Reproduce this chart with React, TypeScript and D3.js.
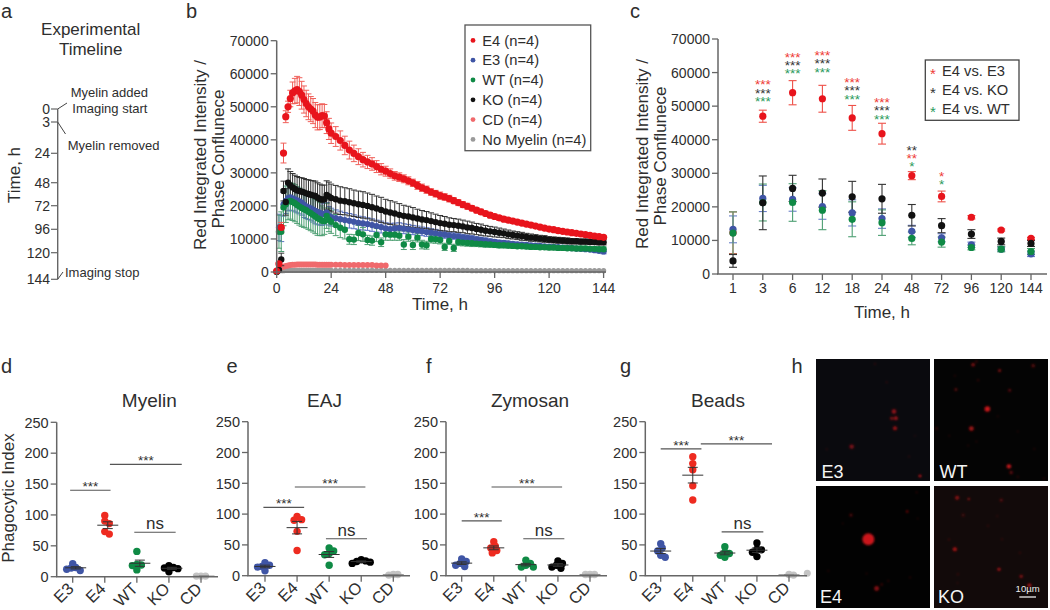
import React from "react";
import * as d3 from "d3";

// ---------- panel b : time course ----------
const times = [
  0,1,2,3,4,5,6,7,8,9,10,11,12,13,14,15,16,17,18,19,20,21,22,23,24,
  26,28,30,32,34,36,38,40,42,44,46,48,50,52,54,56,58,60,62,64,66,68,70,72,74,76,78,80,82,84,
  86,88,90,92,94,96,98,100,102,104,106,108,110,112,114,116,118,120,122,124,126,128,130,132,134,136,138,140,142,144,
];
const e4Mean = [
  300,2500,13500,36000,47000,50000,52500,54200,54800,55200,54600,53500,52200,51000,50000,49300,48700,47500,46800,46900,47300,47200,45200,43300,42000,
  41000,39800,38300,36900,35900,34900,34000,33300,32700,31900,
  31100,30500,29800,29100,28700,28200,27600,27000,26200,25500,
  24900,24200,23700,23100,22700,22200,21600,21000,20400,19900,
  19300,18700,18200,17700,17200,16800,16400,16000,15700,15400,
  15100,14800,14500,14200,13900,13600,13300,13000,12800,12500,
  12300,12100,11900,11700,11500,11300,11100,10900,10700,10500,
];
const e4Err = [
  0,300,1500,3000,1800,1700,2500,3300,3800,4000,4200,4200,4100,4000,3900,3800,3800,3800,3800,3800,3600,3500,3300,3200,3100,
  3000,2900,2800,2700,2500,2400,2200,2000,1900,1800,
  1700,1500,1400,1300,1300,1200,1200,1100,1200,1100,
  1100,1000,1000,1100,1000,1000,900,900,900,900,
  800,800,800,700,800,700,700,700,600,600,
  600,600,600,600,500,600,500,500,500,500,
  500,500,500,400,500,400,400,400,400,400,
];
const koMean = [
  100,600,3800,24500,21200,27000,26200,25600,25100,24700,24500,24300,24100,23800,23600,23400,23200,23000,22500,22100,21900,22000,23300,22900,22400,
  22000,21600,21400,21100,20800,20500,20300,20000,19600,19200,
  18800,18300,18000,17700,17300,17000,16800,16500,16200,15900,
  15700,15400,15100,14800,14600,14300,14200,14000,13800,13500,
  13300,13000,12800,12500,12300,12100,11900,11700,11400,11200,
  11000,10800,10600,10400,10300,10100,10000,9800,9700,9600,
  9500,9400,9300,9300,9200,9200,9100,9100,9000,9000,
];
const koErr = [
  0,300,1900,3000,4000,4200,4200,4200,4200,4200,4100,4200,4200,4200,4300,4300,4400,4500,4500,4500,4400,4300,4300,4300,4200,
  4200,4200,4100,4100,4000,4000,4000,3900,3900,3800,
  3800,3700,3600,3500,3400,3200,3100,3000,2800,2700,
  2600,2500,2400,2300,2200,2100,2000,2000,1900,1900,
  1800,1700,1700,1600,1500,1500,1400,1300,1300,1200,
  1200,1200,1100,1100,1000,1000,1000,900,900,900,
  900,900,800,800,800,800,800,800,800,800,
];
const e3Mean = [
  100,13500,13200,20500,21500,22400,22600,22300,22000,21700,21400,21000,20300,19900,19600,19300,18900,18500,18200,17900,17600,17500,18000,17000,16600,
  16300,16000,15700,15500,15200,14900,14700,14500,14200,13900,
  13600,13200,13000,13200,13300,13100,12900,12700,12500,12300,
  12100,11900,11700,11500,11300,11000,10900,10700,10500,10300,
  10100,9900,9700,9500,9300,9100,8900,8800,8700,8500,
  8400,8300,8200,8100,8000,7900,7800,7700,7600,7500,
  7400,7300,7200,7100,7000,6900,6800,6600,6400,6200,
];
const e3Err = [
  0,4000,4000,3600,3800,3900,3900,3800,3800,3800,3800,3800,3800,3700,3700,3800,3800,3900,3900,3700,3500,3200,3000,2800,2700,
  2500,2400,2300,2200,2100,2000,2000,1900,1900,1800,
  1800,1700,1700,1600,1600,1500,1500,1400,1400,1300,
  1300,1200,1200,1100,1100,1000,1000,1000,900,900,
  900,800,800,800,700,700,700,700,600,600,
  600,600,600,500,500,500,500,500,500,500,
  500,500,500,500,500,500,600,600,600,700,
];
const wtMean = [
  100,12200,12200,19500,20500,21300,21500,21200,20800,20300,19800,19400,19000,18700,18200,17800,17300,16800,16300,16000,15500,15400,17000,15800,15200,
  14200,13400,12800,9900,9800,11800,11400,9700,9500,11200,
  9000,11400,11300,11300,11000,8300,10700,8200,10400,8300,
  8100,10000,9900,9700,7600,9400,7300,9100,8900,8800,
  8700,8600,8500,8400,8300,8200,8100,8100,8000,7900,
  7800,7800,7700,7600,7600,7500,7500,7400,7400,7300,
  7300,7200,7200,7100,7100,7100,7000,7000,6900,6900,
];
const wtErr = [
  0,5000,6000,5500,5500,5500,5500,5600,5600,5600,5600,5600,5500,5400,5300,5300,5200,5200,5200,5000,4500,4000,3800,3600,3500,
  3200,3000,2800,1500,1500,2300,2100,1400,1400,2000,
  1300,1800,1700,1700,1400,1500,1400,1400,1300,1300,
  1200,1200,1200,1200,1100,1100,1100,1100,1000,1000,
  1000,900,900,900,800,800,800,800,800,700,
  700,700,700,700,700,700,700,700,700,700,
  700,700,700,700,700,700,700,700,700,700,
];
const cdMean = [
  1400,1500,1600,1800,2000,2100,2200,2200,2300,2300,2300,2300,2300,2300,2300,2300,2300,2200,2200,2200,2200,2200,2200,2200,
  2200,2200,2100,2100,2100,2100,2100,2100,2100,2000,2000,2000,
];
const noMyelin = [
  300,400,400,400,500,500,500,500,500,500,500,500,500,500,500,500,500,500,500,500,500,500,500,500,500,
  500,500,500,500,500,500,500,500,500,500,500,500,500,500,500,500,500,500,500,500,
  500,500,500,500,500,500,500,500,500,500,400,400,400,400,400,400,400,400,400,400,
  400,400,400,400,400,400,400,400,400,400,400,400,400,400,400,400,400,400,400,400,
];
const bYTicks = [0,10000,20000,30000,40000,50000,60000,70000];
const bXTicks = [0,24,48,72,96,120,144];
const bLegend = ["E4 (n=4)","E3 (n=4)","WT (n=4)","KO (n=4)","CD (n=4)","No Myelin (n=4)"];

// ---------- panel c : selected times ----------
const cTimes = ["1","3","6","12","18","24","48","72","96","120","144"];
const cE4 = [12300,47000,54000,52200,46500,41800,29300,23100,16900,13100,10600];
const cE4Err = [6200,1800,3600,4000,3700,3100,1200,1600,500,300,300];
const cE3 = [13300,22500,22200,20100,18200,16500,12700,10800,8700,7400,6000];
const cE3Err = [4000,3900,3500,3800,3900,2900,1800,1200,800,600,800];
const cKO = [3900,21200,25500,24100,23000,22400,17500,14400,11900,9700,9100];
const cKOErr = [1900,8000,3900,4200,4600,4300,3200,2100,1300,1000,900];
const cWT = [12200,21300,21300,19000,16300,15300,10600,9500,7900,7400,6700];
const cWTErr = [6300,5500,5600,5800,5200,3800,1900,1500,700,800,900];
const cStarsE3 = ["","***","***","***","***","***","**","*","","",""];
const cStarsKO = ["","***","***","***","***","***","**","","","",""];
const cStarsWT = ["","***","***","***","***","***","*","*","","",""];
const cStarTop = [0,57200,65500,66000,57900,52000,37800,29900,0,0,0];
const cLegend = ["E4 vs. E3","E4 vs. KO","E4 vs. WT"];

// ---------- panels d-g : phagocytic index ----------
const groups = ["E3","E4","WT","KO","CD"];
const myelin = [[21,15,14,12,10],[99,90,86,73,69],[41,20,19,18,11],[18,15,14,13,8],[1,1,1]];
const eaj = [[21,17,15,14,8],[96,91,90,72,41],[45,40,36,34,17],[26,24,23,22,20],[2,1,2]];
const zymosan = [[27,23,20,17,15],[55,48,45,41,37],[25,20,17,14,14],[24,20,17,14,12],[2,2,2]];
const beads = [[52,45,40,33,30],[193,182,172,146,123],[47,38,36,33,30],[53,43,42,38,31],[1,2]];
const indexTicks = [0,50,100,150,200,250];

// ---------- panel h : micrograph spots (fraction x, fraction y, size, brightness) ----------
const spotsE3 = [[.684,.43,2.3,.65],[.7,.486,2,.7],[.664,.486,1.6,.6],[.693,.567,2,.7],[.313,.718,2.2,.55],[.912,.959,1.3,1],[.62,.19,.8,.35],[.517,.04,.8,.3],[.094,.74,.8,.3],[.816,.8,.8,.3],[.868,.63,.8,.2]];
const spotsWT = [[.468,.41,2.8,.9],[.328,.57,2.4,.7],[.657,.88,2.2,.9],[.677,.93,1.8,.4],[.343,.047,1.8,.6],[.372,.02,1,.4],[.575,.094,1.5,.6],[.87,.055,1.8,.4],[.192,.25,1.5,.4],[.663,.257,1.5,.4],[.387,.175,1,.3],[.023,.57,1,.4],[.372,.677,.8,.25],[.3,.71,.8,.25],[.735,.965,1,.25],[.183,.137,.8,.3],[.56,.47,.8,.25],[.88,.737,.8,.25],[.134,.63,.8,.25],[.735,.594,.8,.25],[.965,.98,.8,.3]];
const spotsE4 = [[.459,.436,6,.9],[.532,.84,2.4,.6],[.576,.808,1,.45],[.307,.238,1.6,.35],[.8,.21,1,.8],[.883,.052,.8,.35],[.892,.266,.8,.25],[.234,.307,.8,.25],[.108,.696,.8,.25],[.444,.718,.8,.25],[.825,.75,.8,.35],[.634,.778,.8,.35]];
const spotsKO = [[.203,.096,2,.6],[.305,.107,1,.9],[.183,.518,2,.75],[.57,.682,1.5,.8],[.765,.74,1.6,.6],[.837,.814,1.8,.8],[.256,.238,1.6,.25],[.59,.115,1.6,.35],[.131,.438,.8,.45],[.474,.326,.8,.35],[.596,.436,.8,.35],[.555,.247,.8,.25],[.753,.548,.8,.35],[.21,.723,1,.25],[.206,.795,.8,.25]];

// ---------- panel a : timeline ----------
const timelineTicks = [0,3,24,48,72,96,120,144];

// ---------- style ----------
const FONT = "'Liberation Sans', Arial, sans-serif";
const INK = "#2e2e2e";
const AXIS = "#666";
const RED = "#e8141c";
const BLUE = "#3f55a5";
const GREEN = "#0f8a45";
const BLACK = "#111";
const PINK = "#f0696c";
const GREY = "#9a9a9a";
const COLORS: Record<string,string> = {E3:BLUE,E4:"#ee2b20",WT:GREEN,KO:"#000",CD:"#c4c4c4"};

const fmt = (v:number)=>String(v);

function YAxis({x,scale,ticks,size=14}:any){
  const [a,b]=scale.range();
  return <g>
    <line x1={x} x2={x} y1={a} y2={b} stroke={AXIS} strokeWidth={1.5}/>
    {ticks.map((t:number)=><g key={t}>
      <line x1={x-6} x2={x} y1={scale(t)} y2={scale(t)} stroke={AXIS} strokeWidth={1.3}/>
      <text x={x-8} y={scale(t)+size*0.36} textAnchor="end" fontSize={size} fill={INK}>{fmt(t)}</text>
    </g>)}
  </g>;
}

function TimeCourse(){
  const x=d3.scaleLinear().domain([0,144]).range([276.7,603.6]);
  const y=d3.scaleLinear().domain([0,70000]).range([272,40.7]);
  const series=[
    {vals:e3Mean,err:e3Err,c:BLUE,ec:"#5d75c4",r:3.1},
    {vals:wtMean,err:wtErr,c:GREEN,ec:"#4d9f72",r:3.2},
    {vals:koMean,err:koErr,c:BLACK,ec:"#333",r:3.2},
    {vals:e4Mean,err:e4Err,c:RED,ec:"#f0605a",r:3.6},
  ];
  return <g>
    {noMyelin.map((v,i)=><circle key={"n"+i} cx={x(times[i])} cy={y(v)} r={2.6} fill={GREY}/>)}
    {cdMean.map((v,i)=><circle key={"c"+i} cx={x(times[i+1])} cy={y(v)} r={3} fill={PINK}/>)}
    {series.map((s,k)=><g key={k}>
      {s.vals.map((v,i)=> s.err[i]>0 ? <g key={i} stroke={s.ec} strokeWidth={1}>
        <line x1={x(times[i])} x2={x(times[i])} y1={y(v-s.err[i])} y2={y(v+s.err[i])}/>
        <line x1={x(times[i])-3} x2={x(times[i])+3} y1={y(v+s.err[i])} y2={y(v+s.err[i])}/>
        <line x1={x(times[i])-3} x2={x(times[i])+3} y1={y(v-s.err[i])} y2={y(v-s.err[i])}/>
      </g>:null)}
    </g>)}
    {series.map((s,k)=><g key={k}>
      {s.vals.map((v,i)=><circle key={i} cx={x(times[i])} cy={y(v)} r={s.r} fill={s.c}/>)}
    </g>)}
    <YAxis x={276.7} scale={y} ticks={bYTicks}/>
    <line x1={276} x2={606} y1={272} y2={272} stroke={AXIS} strokeWidth={1.5}/>
    {bXTicks.map(t=><g key={t}>
      <line x1={x(t)} x2={x(t)} y1={272} y2={278} stroke={AXIS} strokeWidth={1.3}/>
      <text x={x(t)} y={293} textAnchor="middle" fontSize={14} fill={INK}>{t}</text>
    </g>)}
    <text x={440} y={310} textAnchor="middle" fontSize={17} fill={INK}>Time, h</text>
    <text transform="translate(206,155) rotate(-90)" textAnchor="middle" fontSize={17} fill={INK}>Red Integrated Intensity /</text>
    <text transform="translate(224,159) rotate(-90)" textAnchor="middle" fontSize={17} fill={INK}>Phase Conflunece</text>
    <rect x={465} y={25} width={125.7} height={125.7} fill="#fff" stroke="#555" strokeWidth={1.3}/>
    {bLegend.map((l,i)=><g key={l}>
      <circle cx={473} cy={40.4+i*19.8} r={2.4} fill={[RED,BLUE,GREEN,BLACK,PINK,GREY][i]}/>
      <text x={482.3} y={45.6+i*19.8} fontSize={14.7} fill={INK}>{l}</text>
    </g>)}
  </g>;
}

function SelectedTimes(){
  const x=d3.scalePoint().domain(cTimes).range([733,1031]);
  const y=d3.scaleLinear().domain([0,70000]).range([274,39]);
  const series=[
    {vals:cE4,err:cE4Err,c:RED,ec:"#ee5048"},
    {vals:cE3,err:cE3Err,c:BLUE,ec:"#6a80c8"},
    {vals:cWT,err:cWTErr,c:GREEN,ec:"#4d9f72"},
    {vals:cKO,err:cKOErr,c:BLACK,ec:"#333"},
  ];
  const rows=[{s:cStarsE3,c:"#ee3a36"},{s:cStarsKO,c:"#333"},{s:cStarsWT,c:"#2a9a5c"}];
  return <g>
    {series.map((s,k)=><g key={k}>
      {s.vals.map((v,i)=>{const cx=x(cTimes[i])!;return <g key={i} stroke={s.ec} strokeWidth={1.1}>
        <line x1={cx} x2={cx} y1={y(v-s.err[i])} y2={y(v+s.err[i])}/>
        <line x1={cx-4} x2={cx+4} y1={y(v+s.err[i])} y2={y(v+s.err[i])}/>
        <line x1={cx-4} x2={cx+4} y1={y(v-s.err[i])} y2={y(v-s.err[i])}/>
      </g>;})}
    </g>)}
    {series.map((s,k)=><g key={k}>
      {s.vals.map((v,i)=><circle key={i} cx={x(cTimes[i])} cy={y(v)} r={3.6} fill={s.c}/>)}
    </g>)}
    {cTimes.map((t,i)=>{
      const base=cStarTop[i];
      // column-wise star stack, red on top, except at 48 h where the two-star black row leads
      const order=t==="48"?[1,0,2]:[0,1,2];
      let row=0;
      return <g key={t}>{order.map(r=>{
        const s=rows[r].s[i];
        if(!s) return null;
        const yy=y(base)+row*8.4;
        row++;
        return <text key={r} x={x(t)} y={yy+7.4} textAnchor="middle" fontSize={13.5} fill={rows[r].c}>{s}</text>;
      })}</g>;
    })}
    <YAxis x={718} scale={y} ticks={bYTicks}/>
    <line x1={717} x2={1047} y1={274} y2={274} stroke={AXIS} strokeWidth={1.5}/>
    {cTimes.map(t=><g key={t}>
      <line x1={x(t)} x2={x(t)} y1={274} y2={280} stroke={AXIS} strokeWidth={1.3}/>
      <text x={x(t)} y={293} textAnchor="middle" fontSize={14} fill={INK}>{t}</text>
    </g>)}
    <text x={882} y={318} textAnchor="middle" fontSize={17} fill={INK}>Time, h</text>
    <text transform="translate(648,154) rotate(-90)" textAnchor="middle" fontSize={17} fill={INK}>Red Integrated Intensity /</text>
    <text transform="translate(666,156) rotate(-90)" textAnchor="middle" fontSize={17} fill={INK}>Phase Conflunece</text>
    <rect x={925.3} y={60} width={93.7} height={60.3} fill="#fff" stroke="#444" strokeWidth={1.3}/>
    {cLegend.map((l,i)=><g key={l}>
      <text x={933} y={79+i*19} textAnchor="middle" fontSize={15} fill={rows[i].c}>*</text>
      <text x={942} y={75.6+i*19} fontSize={14.7} fill={INK}>{l}</text>
    </g>)}
  </g>;
}

// arrange a group's values around its tick so the dots do not pile up
function swarm(vals:number[],y:(v:number)=>number,gap:number){
  const placed:{px:number,py:number,v:number}[]=[];
  [...vals].sort((a,b)=>b-a).forEach(v=>{
    const py=y(v);
    for(let k=0;k<30;k++){
      const off=(k%2?1:-1)*Math.ceil(k/2)*1.5;
      if(placed.every(p=>Math.hypot(p.px-off,p.py-py)>=gap)){placed.push({px:off,py,v});break;}
    }
  });
  return placed;
}

function IndexPanel({data,title,axisX,first,end,y0,y250,titleX,titleY,brackets,meanShift=0,stray=[],yLabel=false}:any){
  const x=d3.scalePoint().domain(groups).range([first,first+128.3]);
  const y=d3.scaleLinear().domain([0,250]).range([y0,y250]);
  const step=x.step();
  const atPos=(p:number)=>first+p*step;
  return <g>
    <text x={titleX} y={titleY} textAnchor="middle" fontSize={19} fill={INK}>{title}</text>
    {yLabel&&<text transform="translate(14,498) rotate(-90)" textAnchor="middle" fontSize={17} fill={INK}>Phagocytic Index</text>}
    {data.map((vals:number[],g:number)=>{
      const cx=x(groups[g])!;
      const m=d3.mean(vals)!;
      const sem=(d3.deviation(vals)||0)/Math.sqrt(vals.length);
      return <g key={g}>
        {swarm(vals,y,4.4).map((p,i)=><circle key={i} cx={cx+p.px} cy={p.py} r={3.7} fill={COLORS[groups[g]]}/>)}
        <g stroke={g===4?"#888":"#333"} strokeWidth={1}>
          <line x1={cx+meanShift-10.5} x2={cx+meanShift+10.5} y1={y(m)} y2={y(m)}/>
          <line x1={cx+meanShift} x2={cx+meanShift} y1={y(m-sem)} y2={y(m+sem)}/>
          <line x1={cx+meanShift-5} x2={cx+meanShift+5} y1={y(m+sem)} y2={y(m+sem)}/>
          <line x1={cx+meanShift-5} x2={cx+meanShift+5} y1={y(m-sem)} y2={y(m-sem)}/>
        </g>
      </g>;
    })}
    {stray.map((s:number[],i:number)=><circle key={i} cx={atPos(s[0])} cy={y(s[1])} r={3.5} fill={COLORS.CD}/>)}
    {brackets.map((b:any,i:number)=><g key={i}>
      <line x1={atPos(b[0])} x2={atPos(b[1])} y1={y(b[2])} y2={y(b[2])} stroke="#555" strokeWidth={1.2}/>
      {b[3]==="ns"
        ? <text x={atPos((b[0]+b[1])/2)} y={y(b[2])-3} textAnchor="middle" fontSize={17} fill={INK}>ns</text>
        : <text x={atPos((b[0]+b[1])/2)} y={y(b[2])+1} textAnchor="middle" fontSize={13.5} fill={INK}>***</text>}
    </g>)}
    <YAxis x={axisX} scale={y} ticks={indexTicks} size={14.5}/>
    <line x1={axisX-0.7} x2={end} y1={y0} y2={y0} stroke={AXIS} strokeWidth={1.4}/>
    {groups.map(g=><g key={g}>
      <line x1={x(g)} x2={x(g)} y1={y0} y2={y0+6} stroke={AXIS} strokeWidth={1.3}/>
      <text transform={`translate(${x(g)!+2},${y0+13}) rotate(-45)`} textAnchor="end" fontSize={16.5} fill={INK}>{g}</text>
    </g>)}
  </g>;
}

function Micrograph({x0,y0,w,h,spots,label,labelX,labelY,bg="#050505",bar=false}:any){
  const sx=d3.scaleLinear().domain([0,1]).range([x0,x0+w]);
  const sy=d3.scaleLinear().domain([0,1]).range([y0,y0+h]);
  return <g>
    <rect x={x0} y={y0} width={w} height={h} fill={bg}/>
    <g filter="url(#spotBlur)">
      {spots.map((s:number[],i:number)=><circle key={i} cx={sx(s[0])} cy={sy(s[1])} r={s[2]} fill={`rgba(225,25,30,${s[3]})`}/>)}
    </g>
    <text x={labelX} y={labelY} fontSize={18} fill="#f4f4f4">{label}</text>
    {bar&&<g>
      <line x1={1019.3} x2={1036} y1={597} y2={597} stroke="#eee" strokeWidth={1.3}/>
      <text x={1027.6} y={592} textAnchor="middle" fontSize={9.5} fill="#eee">10µm</text>
    </g>}
  </g>;
}

function Timeline(){
  const y=d3.scaleLinear().domain(timelineTicks).range([109,122,153.3,182.7,205.7,229.3,252.7,279.3]);
  return <g>
    <text x={90.7} y={35} textAnchor="middle" fontSize={17} fill={INK}>Experimental</text>
    <text x={90.7} y={55} textAnchor="middle" fontSize={17} fill={INK}>Timeline</text>
    <line x1={57.7} x2={57.7} y1={y(0)} y2={y(144)} stroke={AXIS} strokeWidth={1.4}/>
    {timelineTicks.map(t=><g key={t}>
      <line x1={51} x2={57.7} y1={y(t)} y2={y(t)} stroke={AXIS} strokeWidth={1.2}/>
      <text x={50} y={y(t)+5} textAnchor="end" fontSize={14} fill={INK}>{t}</text>
    </g>)}
    <g stroke="#444" strokeWidth={1} fill="none">
      <line x1={57.7} x2={67} y1={y(0)} y2={103}/>
      <line x1={57.7} x2={65.5} y1={y(3)} y2={134}/>
      <line x1={57.7} x2={63} y1={y(144)} y2={272}/>
    </g>
    <text x={70.7} y={96.7} fontSize={13} fill={INK}>Myelin added</text>
    <text x={72.3} y={113.3} fontSize={13} fill={INK}>Imaging start</text>
    <text x={67.7} y={150} fontSize={13} fill={INK}>Myelin removed</text>
    <text x={65} y={276.7} fontSize={13} fill={INK}>Imaging stop</text>
    <text transform="translate(20,175) rotate(-90)" textAnchor="middle" fontSize={17} fill={INK}>Time, h</text>
  </g>;
}

const panelLetters = [
  ["a",1,18],["b",186,18],["c",630,18],["d",1,373],["e",226.5,373],["f",426,373],["g",620,373],["h",791.5,373],
];

export default function App(){
  return <svg width={1050} height={610} viewBox="0 0 1050 610" fontFamily={FONT}
    style={{position:"absolute",left:0,top:0,display:"block",background:"#fff"}}>
    <defs><filter id="spotBlur" x="-5%" y="-5%" width="110%" height="110%"><feGaussianBlur stdDeviation="0.9"/></filter></defs>
    {panelLetters.map(l=><text key={l[0] as string} x={l[1] as number} y={l[2] as number} fontSize={20} fill={INK}>{l[0]}</text>)}
    <Timeline/>
    <TimeCourse/>
    <SelectedTimes/>
    <IndexPanel data={myelin} title="Myelin" axisX={56.7} first={72.7} end={218} y0={576.7} y250={422.3} titleX={149.3} titleY={407} yLabel meanShift={3}
      brackets={[[-0.08,1.18,140,"s"],[1.16,3.4,182,"s"],[1.92,3.21,72,"ns"]]}/>
    <IndexPanel data={eaj} title="EAJ" axisX={248} first={265} end={410} y0={575.7} y250={421.7} titleX={324.5} titleY={407}
      brackets={[[-0.05,1.22,111,"s"],[0.93,3.13,144,"s"],[1.9,3.18,60,"ns"]]}/>
    <IndexPanel data={zymosan} title="Zymosan" axisX={446} first={461.7} end={607} y0={575.7} y250={421.7} titleX={530} titleY={407}
      brackets={[[0,1.25,89,"s"],[0.93,3.13,144,"s"],[1.92,3.2,60,"ns"]]}/>
    <IndexPanel data={beads} title="Beads" axisX={645.3} first={660.7} end={807} y0={575.7} y250={421.7} titleX={718} titleY={407}
      stray={[[4.57,4]]}
      brackets={[[0,1.27,206,"s"],[1.25,3.47,214,"s"],[1.9,3.2,71,"ns"]]}/>
    <Micrograph x0={816} y0={359} w={114} h={122} spots={spotsE3} label="E3" labelX={821.5} labelY={478} bg="#0a0a0e"/>
    <Micrograph x0={934} y0={359} w={114} h={122} spots={spotsWT} label="WT" labelX={939.5} labelY={478} bg="#040404"/>
    <Micrograph x0={816} y0={486} w={114} h={122} spots={spotsE4} label="E4" labelX={820} labelY={603} bg="#020202"/>
    <Micrograph x0={934} y0={486} w={114} h={122} spots={spotsKO} label="KO" labelX={938} labelY={603} bg="#120a0a" bar/>
  </svg>;
}
